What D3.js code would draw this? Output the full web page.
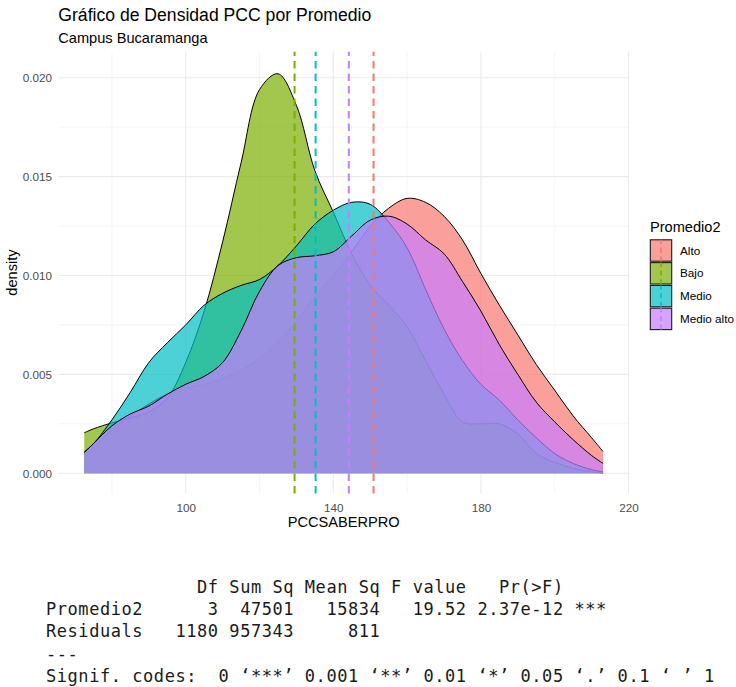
<!DOCTYPE html>
<html>
<head>
<meta charset="utf-8">
<script src="https://cdn.jsdelivr.net/npm/d3@7"></script>
<style>
  body { margin: 0; background: #fff; }
  svg { display: block; }
  text { font-family: "Liberation Sans", Arial, sans-serif; }
</style>
</head>
<body>
<svg id="chart" width="736" height="687"></svg>
<script>
// Groups of the Promedio2 factor, drawn in this order
const groups = ["Alto", "Bajo", "Medio", "Medio alto"];
const groupColors = ["#F8766D", "#7CAE00", "#00BFC4", "#C77CFF"];

// PCCSABERPRO evaluation points shared by every density curve
const gridX = [72.5, 75, 80, 85, 90, 95, 100, 105, 110, 115, 120, 125, 130, 135, 140,
               145, 150, 155, 160, 165, 170, 175, 180, 185, 190, 195, 200, 205, 210, 213.1];

// Kernel density estimate of each group at gridX
const densAlto = [0.0009, 0.0013, 0.0022, 0.0029, 0.0035, 0.0040, 0.0043, 0.0045, 0.0048, 0.0052,
                  0.0058, 0.0066, 0.0077, 0.0089, 0.0100, 0.0112, 0.0125, 0.0134, 0.0139, 0.0137,
                  0.0130, 0.0118, 0.0101, 0.0085, 0.0070, 0.0055, 0.0042, 0.0029, 0.0018, 0.0011];
const densBajo = [0.00205, 0.00225, 0.00255, 0.0028, 0.0031, 0.0038, 0.0056, 0.0082, 0.0117, 0.0157,
                  0.0194, 0.0202, 0.0186, 0.0153, 0.0132, 0.0111, 0.0095, 0.0085, 0.0074, 0.0057,
                  0.0040, 0.0026, 0.0025, 0.0025, 0.0020, 0.0010, 0.00055, 0.00025, 0.00008, 0.00002];
const densMedio = [0.00109, 0.0015, 0.0027, 0.0041, 0.0056, 0.0066, 0.0075, 0.0085, 0.0091, 0.0095,
                   0.0098, 0.0105, 0.0115, 0.0126, 0.0133, 0.0137, 0.0136, 0.0127, 0.0114, 0.0093,
                   0.0073, 0.0057, 0.0045, 0.0037, 0.0027, 0.0018, 0.0010, 0.0005, 0.00018, 0.00008];
const densMedioAlto = [0.00104, 0.0015, 0.0024, 0.0030, 0.0034, 0.0040, 0.0045, 0.0049, 0.0056, 0.0072,
                       0.0092, 0.0105, 0.0109, 0.0110, 0.0112, 0.0120, 0.0128, 0.0130, 0.0126, 0.0118,
                       0.0111, 0.0097, 0.0082, 0.0065, 0.0050, 0.0036, 0.0026, 0.0017, 0.0009, 0.0005];
const densities = [densAlto, densBajo, densMedio, densMedioAlto];

// Group means of PCCSABERPRO (dashed reference lines)
const groupMeans = [150.9, 129.5, 135.2, 144.2];

// Highest point reached by any density curve
const densityPeak = 0.0203;

// Axis breaks
const xTicks = [100, 140, 180, 220];
const xMinor = [80, 120, 160, 200];
const yTicks = [0, 0.005, 0.01, 0.015, 0.02];
const yMinor = [0.0025, 0.0075, 0.0125, 0.0175];

// One-way ANOVA summary printed under the chart
const anovaLines = [
  "              Df Sum Sq Mean Sq F value   Pr(>F)    ",
  "Promedio2      3  47501   15834   19.52 2.37e-12 ***",
  "Residuals   1180 957343     811                     ",
  "---",
  "Signif. codes:  0 \u2018***\u2019 0.001 \u2018**\u2019 0.01 \u2018*\u2019 0.05 \u2018.\u2019 0.1 \u2018 \u2019 1"
];

const svg = d3.select("#chart");
const panel = { left: 58.3, right: 629, top: 51.7, bottom: 493.4 };

// ggplot-style 5% expansion on both scales
const xExt = d3.extent(gridX);
const xPad = 0.05 * (xExt[1] - xExt[0]);
const x = d3.scaleLinear().domain([xExt[0] - xPad, xExt[1] + xPad]).range([panel.left, panel.right]);
const yPad = 0.05 * densityPeak;
const y = d3.scaleLinear().domain([-yPad, densityPeak + yPad]).range([panel.bottom, panel.top]);

// Grid
const grid = svg.append("g");
grid.selectAll(".vminor").data(xMinor).join("line")
  .attr("x1", d => x(d)).attr("x2", d => x(d))
  .attr("y1", panel.top).attr("y2", panel.bottom)
  .attr("stroke", "#EBEBEB").attr("stroke-width", 0.55);
grid.selectAll(".hminor").data(yMinor).join("line")
  .attr("y1", d => y(d)).attr("y2", d => y(d))
  .attr("x1", panel.left).attr("x2", panel.right)
  .attr("stroke", "#EBEBEB").attr("stroke-width", 0.55);
grid.selectAll(".vmajor").data(xTicks).join("line")
  .attr("x1", d => x(d)).attr("x2", d => x(d))
  .attr("y1", panel.top).attr("y2", panel.bottom)
  .attr("stroke", "#EBEBEB").attr("stroke-width", 1.1);
grid.selectAll(".hmajor").data(yTicks).join("line")
  .attr("y1", d => y(d)).attr("y2", d => y(d))
  .attr("x1", panel.left).attr("x2", panel.right)
  .attr("stroke", "#EBEBEB").attr("stroke-width", 1.1);

// Density areas, each followed by its upper outline
const area = d3.area().x(d => x(d[0])).y0(y(0)).y1(d => y(d[1])).curve(d3.curveCatmullRom);
const line = d3.line().x(d => x(d[0])).y(d => y(d[1])).curve(d3.curveCatmullRom);
const densLayer = svg.append("g");
groups.forEach((g, i) => {
  const pts = gridX.map((v, j) => [v, densities[i][j]]);
  densLayer.append("path").attr("d", area(pts))
    .attr("fill", groupColors[i]).attr("fill-opacity", 0.7);
  densLayer.append("path").attr("d", line(pts))
    .attr("fill", "none").attr("stroke", "#000").attr("stroke-width", 1.0);
});

// Dashed mean lines
svg.append("g").selectAll("line").data(groupMeans).join("line")
  .attr("x1", d => x(d)).attr("x2", d => x(d))
  .attr("y1", panel.bottom).attr("y2", panel.top)
  .attr("stroke", (d, i) => groupColors[i])
  .attr("stroke-width", 2)
  .attr("stroke-dasharray", "7.5,5");

// Axes (labels only, theme_minimal has no axis lines or ticks)
const xAxis = svg.append("g").attr("transform", `translate(0,${panel.bottom})`)
  .call(d3.axisBottom(x).tickValues(xTicks).tickSize(0).tickPadding(10.5).tickFormat(d3.format("d")));
const yAxis = svg.append("g").attr("transform", `translate(${panel.left},0)`)
  .call(d3.axisLeft(y).tickValues(yTicks).tickSize(0).tickPadding(6.4).tickFormat(d3.format(".3f")));
[xAxis, yAxis].forEach(a => {
  a.select(".domain").remove();
  a.selectAll("text").attr("fill", "#4D4D4D")
    .style("font-family", '"Liberation Sans", Arial, sans-serif').style("font-size", "11.7px");
});

// Axis titles
svg.append("text").attr("x", (panel.left + panel.right) / 2).attr("y", 527)
  .attr("text-anchor", "middle").style("font-size", "14.6px").attr("fill", "#000")
  .text("PCCSABERPRO");
svg.append("text").attr("transform", `translate(17,${(panel.top + panel.bottom) / 2}) rotate(-90)`)
  .attr("text-anchor", "middle").style("font-size", "14.6px").attr("fill", "#000")
  .text("density");

// Title and subtitle
svg.append("text").attr("x", panel.left).attr("y", 21)
  .style("font-size", "17.6px").attr("fill", "#000").text("Gráfico de Densidad PCC por Promedio");
svg.append("text").attr("x", panel.left).attr("y", 42.5)
  .style("font-size", "14.6px").attr("fill", "#000").text("Campus Bucaramanga");

// Legend
const legend = svg.append("g").attr("transform", "translate(650,0)");
legend.append("text").attr("x", 0).attr("y", 232)
  .style("font-size", "14.6px").attr("fill", "#000").text("Promedio2");
const keyTop = 239.8, keyStep = 22.8, keySize = 21.4;
const keys = legend.selectAll(".key").data(groups).join("g")
  .attr("transform", (d, i) => `translate(0,${keyTop + i * keyStep})`);
keys.append("rect").attr("x", 0.3).attr("y", 0).attr("width", keySize).attr("height", keySize)
  .attr("fill", (d, i) => groupColors[i]).attr("fill-opacity", 0.7)
  .attr("stroke", "#1a1a1a").attr("stroke-width", 1.1);
keys.append("line").attr("x1", 11).attr("x2", 11).attr("y1", keySize).attr("y2", 0)
  .attr("stroke", (d, i) => groupColors[i]).attr("stroke-width", 1.6)
  .attr("stroke-dasharray", "5,3.5");
keys.append("text").attr("x", 30).attr("y", keySize / 2).attr("dy", "0.35em")
  .style("font-size", "11.7px").attr("fill", "#000").text(d => d);

// ANOVA table in console font
svg.append("g").selectAll("text").data(anovaLines).join("text")
  .attr("x", 46).attr("y", (d, i) => 593 + i * 22.2)
  .attr("xml:space", "preserve").style("white-space", "pre")
  .style("font-family", '"DejaVu Sans Mono", monospace').style("font-size", "17px")
  .style("letter-spacing", "0.55px")
  .attr("fill", "#1a1a1a").text(d => d);
</script>
</body>
</html>
